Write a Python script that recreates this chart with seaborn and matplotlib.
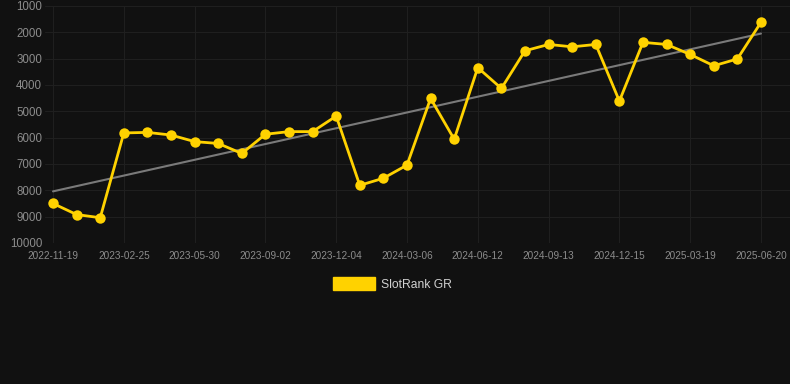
import numpy as np
import pandas as pd
import matplotlib
matplotlib.use("Agg")
import matplotlib.pyplot as plt
from matplotlib.patches import Patch
import seaborn as sns

tick_labels = ["2022-11-19", "2023-02-25", "2023-05-30", "2023-09-02", "2023-12-04",
               "2024-03-06", "2024-06-12", "2024-09-13", "2024-12-15", "2025-03-19",
               "2025-06-20"]
rank = [8500, 8920, 9040, 5820, 5800, 5900, 6150, 6220, 6600, 5870,
        5770, 5770, 5180, 7810, 7540, 7040, 4510, 6060, 3340, 4130,
        2700, 2460, 2550, 2460, 4610, 2380, 2460, 2840, 3270, 3010, 1620]
series_name = "SlotRank GR"

BG = "#111111"
GOLD = "#FFD200"

sns.set_theme(style="dark")
plt.rcParams['font.family'] = ['Liberation Sans', 'DejaVu Sans']

df = pd.DataFrame({"idx": np.arange(len(rank)), "rank": rank})
coef = np.polyfit(df["idx"], df["rank"], 1)
df["trend"] = np.polyval(coef, df["idx"])

fig = plt.figure(figsize=(7.9, 3.84), dpi=100, facecolor=BG)
ax = fig.add_axes([45/790, 1-243/384, 1-45/790, (243-6)/384])
ax.set_facecolor(BG)

sns.lineplot(data=df, x="idx", y="trend", ax=ax, color="#7a7a7a", linewidth=1.5, zorder=2)
sns.lineplot(data=df, x="idx", y="rank", ax=ax, color=GOLD, linewidth=2.0,
             marker="o", markersize=7.5, markeredgewidth=0, zorder=3)

ax.set_ylim(10000, 1000)
ax.set_xlim(-0.34, 31.23)
ax.set_yticks(np.arange(1000, 10001, 1000))
ax.set_yticklabels([str(v) for v in range(1000, 10001, 1000)])
ax.set_xticks(np.arange(0, len(rank), 3))
ax.set_xticklabels(tick_labels)
ax.tick_params(axis="y", colors="#8c8c8c", labelsize=8.3, length=0, pad=2)
ax.tick_params(axis="x", colors="#8c8c8c", labelsize=7.2, length=0, pad=6)
ax.grid(True, color="#1f1f1f", linewidth=0.8)
for s in ax.spines.values():
    s.set_visible(False)
ax.set_xlabel("")
ax.set_ylabel("")

handle = Patch(facecolor=GOLD, edgecolor=GOLD)
leg = fig.legend([handle], [series_name], loc="center", bbox_to_anchor=(0.497, 1-284/384),
                 frameon=False, handlelength=3.5, handleheight=1.2, fontsize=8.7,
                 labelcolor="#d0d0d0", handletextpad=0.5)

fig.savefig("out.png", dpi=100, facecolor=BG)
